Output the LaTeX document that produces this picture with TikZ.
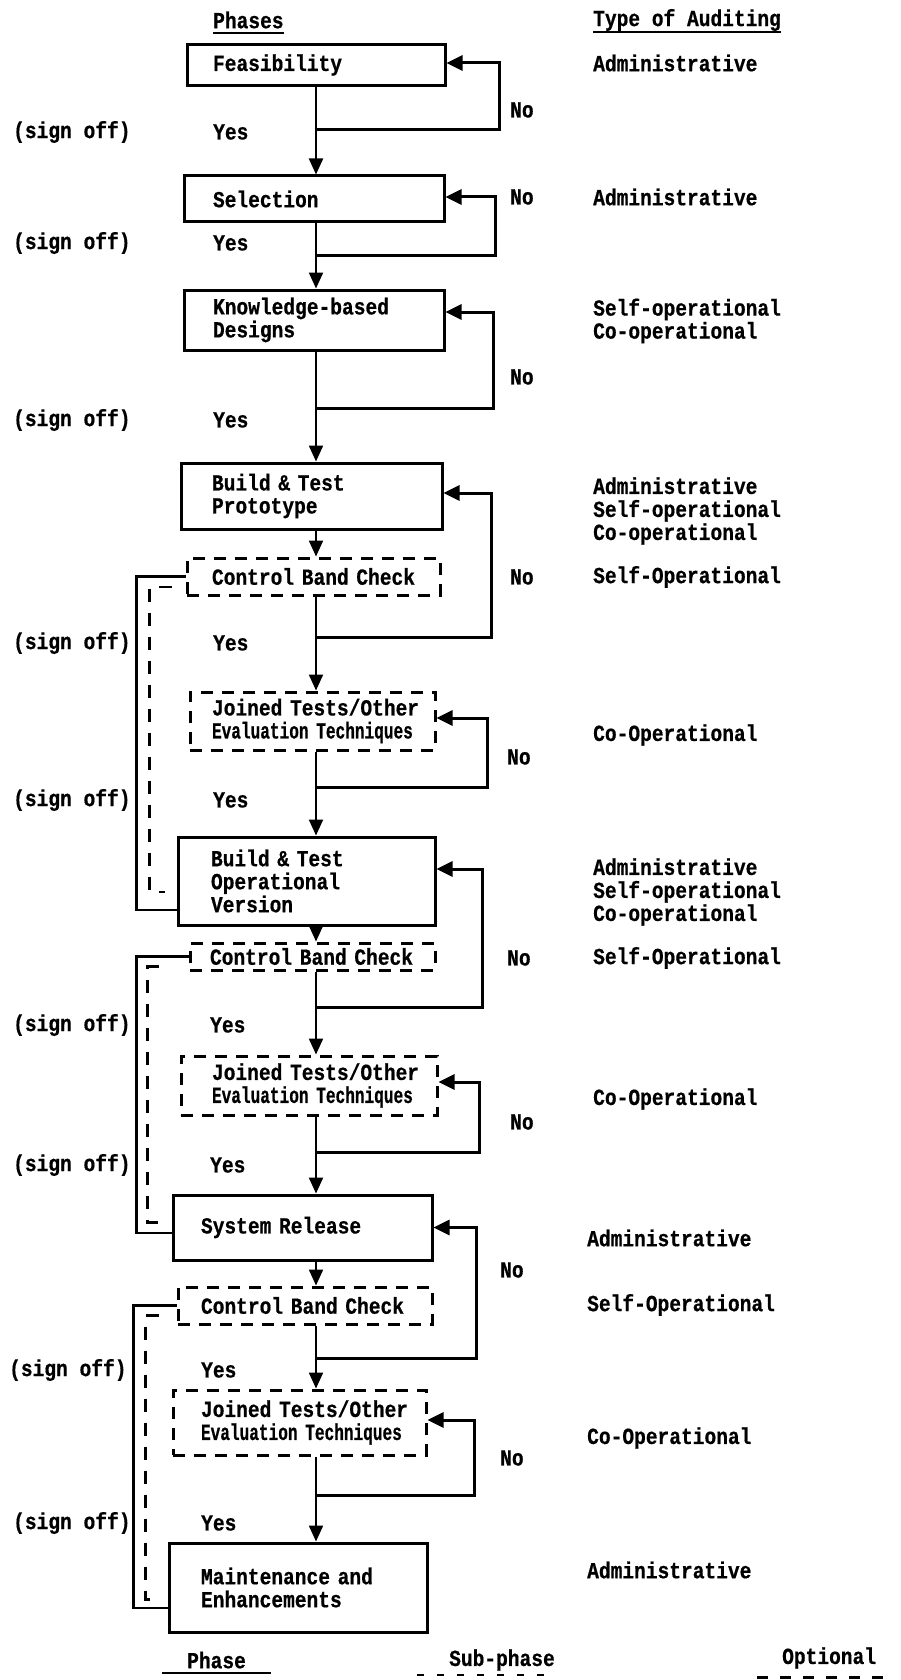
\documentclass[tikz,border=0pt]{standalone}
\usepackage{fontspec}
\newfontfamily\tw{Liberation Mono}[FakeStretch=0.85, BoldFeatures={FakeBold=0.6}]
\newfontfamily\twn{Liberation Mono}[FakeStretch=0.70, BoldFeatures={FakeBold=0.6}]
\usetikzlibrary{arrows.meta}
\newcommand\mf{\tw\bfseries\fontsize{23}{23}\selectfont}
\newcommand\evt{\mbox{\twn\bfseries Evaluation Techniques}}
\begin{document}
\begin{tikzpicture}[x=1pt,y=-1pt,
  txt/.style={anchor=west, inner sep=0pt, align=left, font=\mf},
  phase/.style={draw, line width=3pt, align=left, inner ysep=0pt, font=\mf},
  subphase/.style={phase, dash pattern=on 12pt off 9pt},
  flow/.style={line width=2.2pt, -{Triangle[length=16pt,width=14pt]}},
  back/.style={line width=3pt, -{Triangle[length=16pt,width=15pt]}},
  opt/.style={line width=2.6pt},
  optd/.style={line width=2.6pt, dash pattern=on 13pt off 11pt},
]
\fill[white] (0,0) rectangle (901,1680);
\useasboundingbox (0,0) rectangle (901,1680);

% headers
\node[txt] (hph) at (213,20) {Phases};
\node[txt] (hty) at (593,20) {Type of Auditing};
\draw[line width=2.2pt] ([yshift=-4pt]hph.south west) -- ([yshift=-4pt]hph.south east);
\draw[line width=2.2pt] ([yshift=-1pt]hty.south west) -- ([yshift=-1pt]hty.south east);

% boxes
\node[phase, minimum width=258pt, minimum height=41pt, inner xsep=26pt, text width=206pt] (feas) at (316,65) {Feasibility};
\node[phase, minimum width=260pt, minimum height=46pt, inner xsep=29pt, text width=202pt] (sel) at (314,199) {Selection};
\node[phase, minimum width=260pt, minimum height=60pt, inner xsep=29pt, text width=202pt] (kb) at (314,320) {\mbox{Knowledge-based}\\Designs};
\node[phase, minimum width=261pt, minimum height=66pt, inner xsep=31pt, text width=199pt] (proto) at (311.5,496) {\mbox{Build \& Test}\\Prototype};
\node[subphase, minimum width=253pt, minimum height=37pt, inner xsep=25pt, text width=203pt] (cbc1) at (313.5,576.5) {\mbox{Control Band Check}};
\node[subphase, minimum width=245pt, minimum height=58pt, inner xsep=22pt, text width=201pt] (jt1) at (312.5,721) {\mbox{Joined Tests/Other}\\\evt};
\node[phase, minimum width=257pt, minimum height=88pt, inner xsep=33pt, text width=191pt] (op) at (306.5,881) {\mbox{Build \& Test}\\Operational\\Version};
\node[subphase, minimum width=245pt, minimum height=27pt, inner xsep=20pt, text width=205pt] (cbc2) at (312.5,956.5) {\mbox{Control Band Check}};
\node[subphase, minimum width=256pt, minimum height=59pt, inner xsep=31pt, text width=194pt] (jt2) at (309,1085.5) {\mbox{Joined Tests/Other}\\\evt};
\node[phase, minimum width=259pt, minimum height=65pt, inner xsep=28pt, text width=203pt] (sr) at (302.5,1227.5) {\mbox{System Release}};
\node[subphase, minimum width=254pt, minimum height=37pt, inner xsep=23pt, text width=208pt] (cbc3) at (305,1305.5) {\mbox{Control Band Check}};
\node[subphase, minimum width=253pt, minimum height=65pt, inner xsep=28pt, text width=197pt] (jt3) at (299.5,1422.5) {\mbox{Joined Tests/Other}\\\evt};
\node[phase, minimum width=258pt, minimum height=89pt, inner xsep=32pt, text width=194pt] (mt) at (298,1587.5) {\mbox{Maintenance and}\\Enhancements};

% type of auditing column
\node[txt] (t1) at (593,63) {Administrative};
\node[txt] (t2) at (593,197) {Administrative};
\node[txt] (t3) at (593,321) {Self-operational\\Co-operational};
\node[txt] (t4) at (593,511) {Administrative\\Self-operational\\Co-operational};
\node[txt] (t5) at (593,577) {Self-Operational};
\node[txt] (t6) at (593,735) {Co-Operational};
\node[txt] (t7) at (593,892) {Administrative\\Self-operational\\Co-operational};
\node[txt] (t8) at (593,958) {Self-Operational};
\node[txt] (t9) at (593,1099) {Co-Operational};
\node[txt] (t10) at (587,1238) {Administrative};
\node[txt] (t11) at (587,1305) {Self-Operational};
\node[txt] (t12) at (587,1438) {Co-Operational};
\node[txt] (t13) at (587,1570) {Administrative};

% sign off / yes
\node[txt] (s1) at (13,132) {(sign off)};
\node[txt] (y1) at (213,132) {Yes};
\node[txt] (s2) at (13,243) {(sign off)};
\node[txt] (y2) at (213,243) {Yes};
\node[txt] (s3) at (13,420) {(sign off)};
\node[txt] (y3) at (213,420) {Yes};
\node[txt] (s4) at (13,643) {(sign off)};
\node[txt] (y4) at (213,643) {Yes};
\node[txt] (s5) at (13,800) {(sign off)};
\node[txt] (y5) at (213,800) {Yes};
\node[txt] (s6) at (13,1025) {(sign off)};
\node[txt] (y6) at (210,1025) {Yes};
\node[txt] (s7) at (13,1165) {(sign off)};
\node[txt] (y7) at (210,1165) {Yes};
\node[txt] (s8) at (9,1370) {(sign off)};
\node[txt] (y8) at (201,1370) {Yes};
\node[txt] (s9) at (13,1523) {(sign off)};
\node[txt] (y9) at (201,1523) {Yes};

% No labels
\node[txt] (n1) at (510,110) {No};
\node[txt] (n2) at (510,197) {No};
\node[txt] (n3) at (510,377) {No};
\node[txt] (n4) at (510,577) {No};
\node[txt] (n5) at (507,757) {No};
\node[txt] (n6) at (507,958) {No};
\node[txt] (n7) at (510,1122) {No};
\node[txt] (n8) at (500,1270) {No};
\node[txt] (n9) at (500,1458) {No};

% spine and junctions
\coordinate (sp) at (316,0);
\coordinate (j1) at (316,130);
\coordinate (j2) at (316,256);
\coordinate (j3) at (316,408);
\coordinate (j4) at (316,637);
\coordinate (j5) at (316,787);
\coordinate (j6) at (316,1007);
\coordinate (j7) at (316,1152);
\coordinate (j8) at (316,1358);
\coordinate (j9) at (316,1495);

% downward flow
\draw[flow] (feas.south -| sp) -- (sel.north -| sp);
\draw[flow] (sel.south -| sp) -- (kb.north -| sp);
\draw[flow] (kb.south -| sp) -- (proto.north -| sp);
\draw[flow] (proto.south -| sp) -- (cbc1.north -| sp);
\draw[flow] (cbc1.south -| sp) -- (jt1.north -| sp);
\draw[flow] (jt1.south -| sp) -- (op.north -| sp);
\draw[flow] (op.south -| sp) -- (cbc2.north -| sp);
\draw[flow] (cbc2.south -| sp) -- (jt2.north -| sp);
\draw[flow] (jt2.south -| sp) -- (sr.north -| sp);
\draw[flow] (sr.south -| sp) -- (cbc3.north -| sp);
\draw[flow] (cbc3.south -| sp) -- (jt3.north -| sp);
\draw[flow] (jt3.south -| sp) -- (mt.north -| sp);

% "No" loops back
\draw[back] (j1) -| ([xshift=53pt,yshift=2pt]feas.east) -- ([yshift=2pt]feas.east);
\draw[back] (j2) -| ([xshift=50pt,yshift=2pt]sel.east) -- ([yshift=2pt]sel.east);
\draw[back] (j3) -| ([xshift=48pt,yshift=8pt]kb.east) -- ([yshift=8pt]kb.east);
\draw[back] (j4) -| ([xshift=48pt,yshift=3pt]proto.east) -- ([yshift=3pt]proto.east);
\draw[back] (j5) -| ([xshift=51pt,yshift=3pt]jt1.east) -- ([yshift=3pt]jt1.east);
\draw[back] (j6) -| ([xshift=46pt,yshift=12pt]op.east) -- ([yshift=12pt]op.east);
\draw[back] (j7) -| ([xshift=41pt,yshift=3.5pt]jt2.east) -- ([yshift=3.5pt]jt2.east);
\draw[back] (j8) -| ([xshift=43pt]sr.east) -- (sr.east);
\draw[back] (j9) -| ([xshift=47pt,yshift=2.5pt]jt3.east) -- ([yshift=2.5pt]jt3.east);

% optional bypasses (solid + dashed)
\draw[opt] (cbc1.west) -- ++(-49,0) |- ([yshift=-29pt]op.west);
\draw[optd] ([xshift=-14pt,yshift=-10.5pt]cbc1.west) -- ++(-22,0) |- ([xshift=-12pt,yshift=-11pt]op.west);
\draw[opt] (cbc2.west) -- ++(-52,0) |- ([yshift=-5.5pt]sr.west);
\draw[optd] ([xshift=-30pt,yshift=-10pt]cbc2.west) -- ++(-11,0) |- ([xshift=-13pt,yshift=5pt]sr.west);
\draw[opt] (cbc3.west) -- ++(-43,0) |- ([yshift=-20.5pt]mt.west);
\draw[optd] ([xshift=-18pt,yshift=-10pt]cbc3.west) -- ++(-13,0) |- ([xshift=-14pt,yshift=-12pt]mt.west);

% legend
\node[txt] (lp) at (187,1660) {Phase};
\node[txt] (ls) at (449,1660) {Sub-phase};
\node[txt] (lo) at (782,1658) {Optional};
\draw[line width=2.6pt] (162,1673) -- (271,1673);
\draw[line width=2.6pt, dash pattern=on 7pt off 13pt] (417,1675) -- (553,1675);
\draw[line width=3pt, dash pattern=on 11pt off 12pt] (757,1677) -- (893,1677);
\end{tikzpicture}
\end{document}
